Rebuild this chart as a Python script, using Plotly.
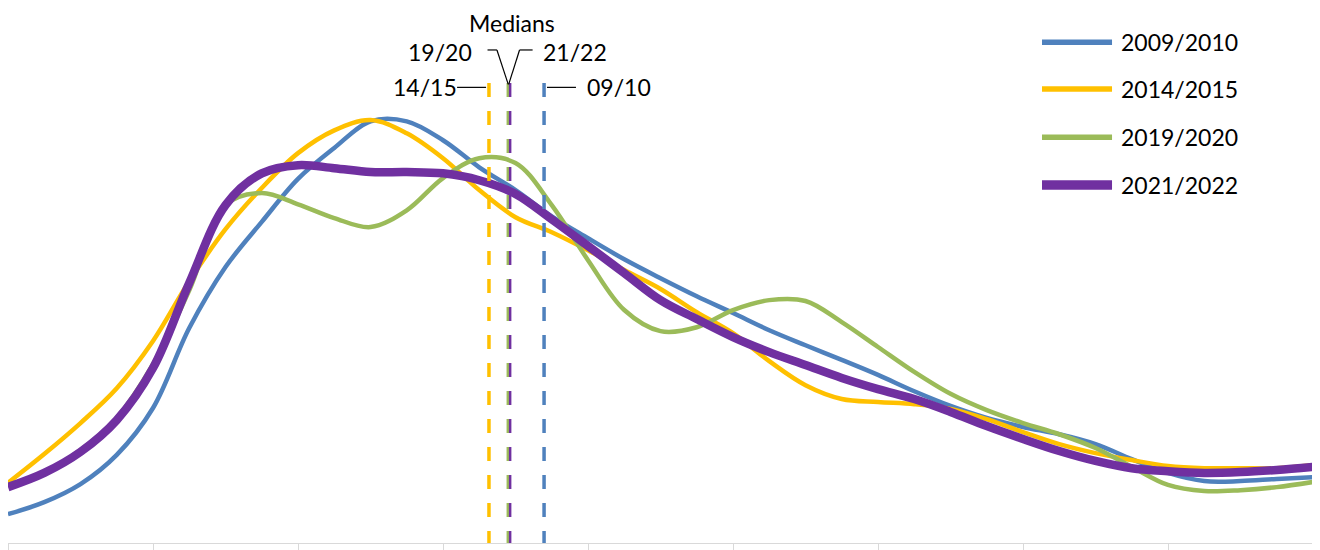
import plotly.graph_objects as go

# Category positions (tick every 1 unit; readings every quarter unit)
x_pos = [i * 0.25 for i in range(37)]

series_names = ["2009/2010", "2014/2015", "2019/2020", "2021/2022"]
series_colors = ["#4F81BD", "#FFC000", "#9BBB59", "#7030A0"]
series_widths = [4.5, 4.5, 4.5, 8.5]

s_2009_2010 = [6.7, 9.5, 13.7, 20.5, 31.4, 50.0, 64.2, 74.7, 84.7, 91.9, 98.1, 98.1,
               93.7, 87.4, 82.1, 76.0, 70.9, 66.0, 61.6, 57.4, 53.5, 49.5, 46.0, 42.6,
               39.1, 35.3, 31.9, 29.1, 27.0, 25.3, 23.0, 19.5, 16.3, 14.4, 14.4, 14.9, 15.3]
s_2014_2015 = [14.0, 20.7, 27.9, 36.0, 47.0, 60.9, 73.0, 82.6, 90.7, 96.0, 98.4, 95.3,
               89.5, 82.1, 75.8, 72.3, 68.1, 63.5, 59.1, 53.7, 48.8, 42.3, 36.7, 33.5,
               32.8, 32.3, 31.2, 28.8, 25.8, 23.0, 20.9, 19.3, 17.9, 17.4, 17.4, 17.4, 18.1]
s_2019_2020 = [13.5, 16.5, 21.6, 29.1, 41.6, 58.8, 78.6, 81.4, 78.8, 75.6, 73.5, 77.4,
               84.9, 89.5, 88.4, 78.6, 65.8, 54.2, 49.3, 50.2, 54.2, 56.5, 56.3, 51.4,
               45.6, 39.8, 34.7, 30.9, 27.9, 25.3, 22.1, 17.7, 13.5, 12.1, 12.3, 13.0, 14.2]
s_2021_2022 = [13.0, 16.3, 21.2, 28.6, 40.7, 60.5, 78.6, 86.0, 87.9, 87.2, 86.3, 86.3,
               86.0, 84.4, 81.2, 75.3, 69.1, 62.8, 56.5, 52.1, 47.9, 44.4, 41.4, 38.4,
               35.8, 33.5, 30.5, 27.2, 24.2, 21.4, 19.1, 17.4, 16.7, 16.3, 16.5, 17.0, 17.7]
series_values = [s_2009_2010, s_2014_2015, s_2019_2020, s_2021_2022]

# Medians (x position in category units)
median_labels = ["09/10", "14/15", "19/20", "21/22"]
median_values = [3.697, 3.317, 3.447, 3.463]
median_colors = ["#4F81BD", "#FFC000", "#9BBB59", "#7030A0"]
median_widths = [3.5, 3.5, 2.5, 2.5]
median_top = 107

FONT = "Lato"
FS = 23

fig = go.Figure()

for name, vals, col, w in zip(series_names, series_values, series_colors, series_widths):
    fig.add_trace(go.Scatter(x=x_pos, y=vals, mode="lines", name=name,
                             line=dict(color=col, width=w, shape="spline", smoothing=1.0),
                             showlegend=False, hoverinfo="name+y"))

for lab, m, col, w in zip(median_labels, median_values, median_colors, median_widths):
    fig.add_trace(go.Scatter(x=[m, m], y=[median_top, 0], mode="lines", name=lab,
                             line=dict(color=col, width=w, dash="14px,14px"),
                             showlegend=False, hoverinfo="name"))

annotations = []
shapes = []

def ann(text, x, y, xanchor):
    annotations.append(dict(text=text, x=x, y=y, xref="x", yref="y", showarrow=False,
                            xanchor=xanchor, yanchor="middle",
                            font=dict(family=FONT, size=FS, color="#000000")))

def seg(x0, y0, x1, y1):
    shapes.append(dict(type="line", xref="x", yref="y", x0=x0, y0=y0, x1=x1, y1=y1,
                       line=dict(color="#000000", width=1.2)))

m0910, m1415, m1920, m2122 = median_values

# Medians title and labels with connectors
ann("Medians", (m1920 + m2122) / 2 + 0.02, 121.0, "center")
ann("14/15", m1415 - 0.205, 106.0, "right")
seg(m1415 - 0.22, 106.0, m1415 - 0.02, 106.0)
ann("09/10", m0910 + 0.28, 106.0, "left")
seg(m0910 + 0.02, 106.0, m0910 + 0.22, 106.0)
ann("19/20", m1920 - 0.235, 114.3, "right")
seg(m1920 - 0.14, 114.7, m1920 - 0.075, 114.7)
seg(m1920 - 0.075, 114.7, m1920 + 0.003, 106.7)
ann("21/22", m2122 + 0.215, 114.3, "left")
seg(m2122 - 0.01, 106.7, m2122 + 0.065, 114.7)
seg(m2122 + 0.065, 114.7, m2122 + 0.155, 114.7)

# Legend (drawn manually to match long sample lines)
legend_y = [116.5, 105.6, 94.4, 83.3]
for name, col, w, ly in zip(series_names, series_colors, series_widths, legend_y):
    shapes.append(dict(type="line", xref="x", yref="y", x0=7.131, x1=7.614, y0=ly, y1=ly,
                       line=dict(color=col, width=w + 1)))
    ann(name, 7.66, ly, "left")

# The page body has an 8px margin, so the figure is sized/offset to compensate
fig.update_layout(
    width=1312, height=542,
    margin=dict(l=0, r=7, t=2, b=7),
    paper_bgcolor="#FFFFFF", plot_bgcolor="#FFFFFF",
    annotations=annotations, shapes=shapes,
    xaxis=dict(range=[0, 9], tickvals=list(range(10)), showticklabels=False,
               ticks="outside", ticklen=7, tickcolor="#D9D9D9", tickwidth=1,
               showline=True, linecolor="#D9D9D9", linewidth=1,
               showgrid=False, zeroline=False, fixedrange=True),
    yaxis=dict(range=[0, 124], visible=False, showgrid=False, zeroline=False, fixedrange=True),
    font=dict(family=FONT, size=FS, color="#000000"),
)

fig.write_html("out.html")
